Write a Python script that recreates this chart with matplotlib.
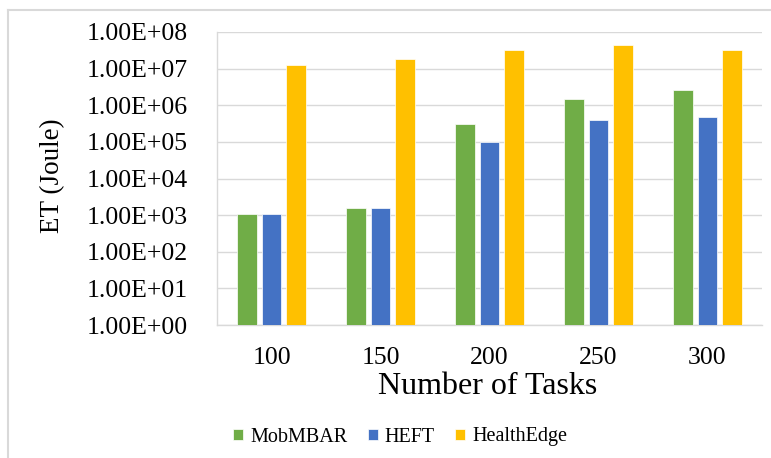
import matplotlib
matplotlib.use("Agg")
import matplotlib.pyplot as plt
from matplotlib.lines import Line2D
from matplotlib.ticker import FixedLocator, FuncFormatter, NullLocator
import numpy as np

categories = ["100", "150", "200", "250", "300"]
series_names = ["MobMBAR", "HEFT", "HealthEdge"]
mobmbar = [1.06e3, 1.57e3, 3.1e5, 1.5e6, 2.6e6]
heft = [1.06e3, 1.57e3, 1.0e5, 3.9e5, 4.7e5]
healthedge = [1.22e7, 1.85e7, 3.25e7, 4.4e7, 3.25e7]
colors = ["#70AD47", "#4472C4", "#FFC000"]
y_ticks = [1e0, 1e1, 1e2, 1e3, 1e4, 1e5, 1e6, 1e7, 1e8]

plt.rcParams["font.family"] = ["Liberation Serif", "DejaVu Serif"]

W, H = 771, 458
fig = plt.figure(figsize=(W / 100, H / 100), dpi=100)
ax = fig.add_axes([217 / W, 1 - 325 / H, (762 - 217) / W, (325 - 32) / H])

x = np.arange(len(categories))
width = 0.18
offsets = [-0.225, 0.0, 0.225]
for vals, name, c, off in zip([mobmbar, heft, healthedge], series_names, colors, offsets):
    ax.bar(x + off, vals, width, color=c, label=name, edgecolor="white", linewidth=0.5, zorder=3)

ax.set_yscale("log")
ax.set_ylim(1, 1e8)
ax.set_xlim(-0.5, len(categories) - 0.5)
ax.yaxis.set_major_locator(FixedLocator(y_ticks))
ax.yaxis.set_minor_locator(NullLocator())
ax.yaxis.set_major_formatter(FuncFormatter(lambda v, p: "{:.2E}".format(v)))
ax.set_xticks(x)
ax.set_xticklabels(categories)

ax.grid(axis="y", color="#D9D9D9", linewidth=1.0, zorder=0)
for s in ["top", "right"]:
    ax.spines[s].set_visible(False)
for s in ["left", "bottom"]:
    ax.spines[s].set_color("#D9D9D9")
    ax.spines[s].set_linewidth(1.0)
ax.tick_params(axis="both", length=0, labelsize=18.5, colors="black")
ax.tick_params(axis="y", pad=21)
ax.tick_params(axis="x", pad=16)

fig.text(53 / W, 1 - 176 / H, "ET (Joule)", rotation=90, ha="center", va="center", fontsize=19.5)
fig.text(488 / W, 1 - 387 / H, "Number of Tasks", ha="center", va="center", fontsize=23)

ax.legend(loc="center", bbox_to_anchor=(400 / W, 1 - 437 / H), bbox_transform=fig.transFigure,
          ncol=3, frameon=False, fontsize=14.5, handlelength=0.5, handleheight=0.5,
          handletextpad=0.35, columnspacing=1.0)

fig.add_artist(Line2D([7.5 / W, 1], [1 - 9.5 / H, 1 - 9.5 / H], transform=fig.transFigure,
                      color="#D9D9D9", linewidth=1.5))
fig.add_artist(Line2D([7.5 / W, 7.5 / W], [0, 1 - 9.5 / H], transform=fig.transFigure,
                      color="#D9D9D9", linewidth=1.5))

fig.savefig("out.png", dpi=100)
